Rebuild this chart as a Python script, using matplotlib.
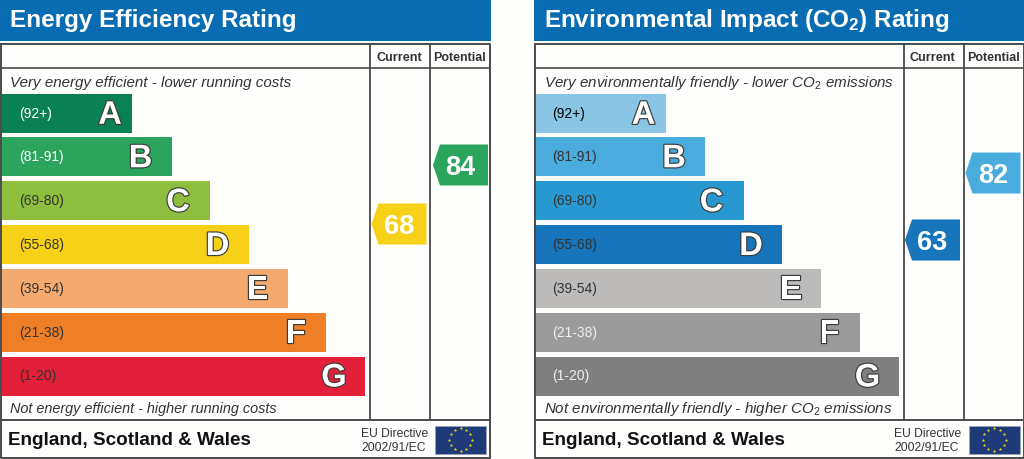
import matplotlib
matplotlib.use("Agg")
import matplotlib.pyplot as plt
import matplotlib.patheffects as pe
from matplotlib.patches import Polygon, Rectangle
import numpy as np

plt.rcParams['font.family'] = ['Liberation Sans', 'DejaVu Sans']
plt.rcParams['mathtext.fontset'] = 'custom'
plt.rcParams['mathtext.rm'] = 'Liberation Sans'
plt.rcParams['mathtext.it'] = 'Liberation Sans:italic'
plt.rcParams['mathtext.bf'] = 'Liberation Sans:bold'
plt.rcParams['mathtext.default'] = 'rm'

# ---- data ----
bands = ["A", "B", "C", "D", "E", "F", "G"]
ranges = ["(92+)", "(81-91)", "(69-80)", "(55-68)", "(39-54)", "(21-38)", "(1-20)"]
bar_lengths = [132, 171.5, 210, 248.5, 287.5, 326, 365]

eer_title = "Energy Efficiency Rating"
eer_top = "Very energy efficient - lower running costs"
eer_bottom = "Not energy efficient - higher running costs"
eer_colors = ["#0a8055", "#2ba55c", "#8fbe3f", "#f7d117", "#f4aa6e", "#ee7f26", "#e32039"]
eer_range_colors = ["#ffffff", "#ffffff", "#333333", "#333333", "#333333", "#333333", "#333333"]
eer_current = 68
eer_potential = 84
eer_current_color = "#f7d117"
eer_potential_color = "#2ba55c"

co2_title = r"Environmental Impact (CO$_{\mathbf{2}}$) Rating"
co2_top = r"Very environmentally friendly - lower CO$_2$ emissions"
co2_bottom = r"Not environmentally friendly - higher CO$_2$ emissions"
co2_colors = ["#8bc5e6", "#4aabdd", "#2899d0", "#1675bb", "#bcbbb9", "#9b9b9b", "#7f7f7f"]
co2_range_colors = ["#000000", "#333333", "#333333", "#333333", "#333333", "#eeeeee", "#eeeeee"]
co2_current = 63
co2_potential = 82
co2_current_color = "#1675bb"
co2_potential_color = "#4aabdd"

footer = "England, Scotland & Wales"
directive = ["EU Directive", "2002/91/EC"]

# ---- layout (pixels) ----
BAR_TOPS = [94.8, 138.3, 182.2, 226, 269.8, 313.7, 357.5]
LETTER_INSET = [22, 31, 32, 31, 30, 30, 31]
BAR_H = 39
BLUE = "#086cb3"
LINE = "#4a4a4a"

fig = plt.figure(figsize=(10.24, 4.6), dpi=100, facecolor="#fefefd")
ax = fig.add_axes([0, 0, 1, 1])
ax.set_xlim(0, 1024)
ax.set_ylim(460, 0)
ax.axis("off")


def badge(xl, yc, value, color):
    xr = xl + 55
    pts = [(xl + 7, yc - 20.5), (xr, yc - 20.5), (xr, yc + 20.5), (xl + 7, yc + 20.5), (xl, yc)]
    ax.add_patch(Polygon(pts, closed=True, fc=color, ec="none", zorder=3))
    ax.text(xl + 27.5, yc + 9.3, str(value), color="white", fontsize=19.5, fontweight="bold",
            ha="center", va="baseline", zorder=4)


def eu_flag(x, y):
    ax.add_patch(Rectangle((x, y), 51, 28, fc="#1f3a78", ec="#9aa4bb", lw=0.5, zorder=3))
    ang = np.deg2rad(np.arange(0, 360, 30))
    ax.scatter(x + 25.5 + 11.5 * np.cos(ang), y + 14 + 11.5 * np.sin(ang),
               marker="*", s=7, c="#f5d90a", linewidths=0, zorder=4)


def panel(x0, title, top, bottom, top_size, bottom_size, colors, range_colors,
          cur, pot, cur_col, pot_col, cur_x, pot_x, cur_y, pot_y):
    # header
    ax.add_patch(Rectangle((x0, 0), 490.5, 41.6, fc=BLUE, ec="none", zorder=1))
    ax.text(x0 + 10.5, 27.5, title, color="white", fontsize=17.5, fontweight="bold",
            ha="left", va="baseline", zorder=2)
    # frame
    r = x0 + 490
    ax.plot([x0 + 1, r, r, x0 + 1, x0 + 1], [44.5, 44.5, 459, 459, 44.5], color=LINE, lw=1.4, zorder=5)
    ax.plot([x0 + 1, r], [69, 69], color=LINE, lw=1.2, zorder=5)
    ax.plot([x0 + 1, r], [421, 421], color=LINE, lw=1.4, zorder=5)
    for cx in (370, 430):
        ax.plot([x0 + cx, x0 + cx], [44.5, 421], color=LINE, lw=1.3, zorder=5)
    ax.text(x0 + 399, 61.3, "Current", fontsize=9.1, fontweight="bold", color="#333333", ha="center", va="baseline")
    ax.text(x0 + 460, 61.3, "Potential", fontsize=9.0, fontweight="bold", color="#333333", ha="center", va="baseline")
    ax.text(x0 + 10.5, 86.5, top, fontsize=top_size, style="italic", color="#333333", ha="left", va="baseline")
    ax.text(x0 + 10.5, 413, bottom, fontsize=bottom_size, style="italic", color="#333333", ha="left", va="baseline")
    # bars
    ax.barh([t + BAR_H / 2 for t in BAR_TOPS], [l - 1.5 for l in bar_lengths], height=BAR_H,
            left=x0 + 1.5, color=colors, edgecolor="none", zorder=2)
    for t, length, inset, band, rng, rc in zip(BAR_TOPS, bar_lengths, LETTER_INSET, bands, ranges, range_colors):
        ax.text(x0 + 19, t + 23, rng, fontsize=10, color=rc, ha="left", va="baseline", zorder=4)
        ax.text(x0 + length - inset, t + 30, band, fontsize=23.5, fontweight="bold", color="white",
                ha="center", va="baseline", zorder=4,
                path_effects=[pe.withStroke(linewidth=1.7, foreground="#3c3c3c")])
    badge(cur_x, cur_y, cur, cur_col)
    badge(pot_x, pot_y, pot, pot_col)
    # footer
    ax.text(x0 + 8, 445, footer, fontsize=13.6, fontweight="bold", color="#111111", ha="left", va="baseline")
    ax.text(x0 + 361, 437.3, directive[0], fontsize=8.7, color="#333333", ha="left", va="baseline")
    ax.text(x0 + 361, 451.3, directive[1], fontsize=8.7, color="#333333", ha="left", va="baseline")
    eu_flag(x0 + 435, 426.5)


panel(0, eer_title, eer_top, eer_bottom, 10.9, 10.33, eer_colors, eer_range_colors,
      eer_current, eer_potential, eer_current_color, eer_potential_color, 371.5, 433, 225, 166)
panel(533.5, co2_title, co2_top, co2_bottom, 10.92, 10.88, co2_colors, co2_range_colors,
      co2_current, co2_potential, co2_current_color, co2_potential_color, 905, 965.5, 241, 174)

fig.savefig("out.png", dpi=100, facecolor=fig.get_facecolor())
